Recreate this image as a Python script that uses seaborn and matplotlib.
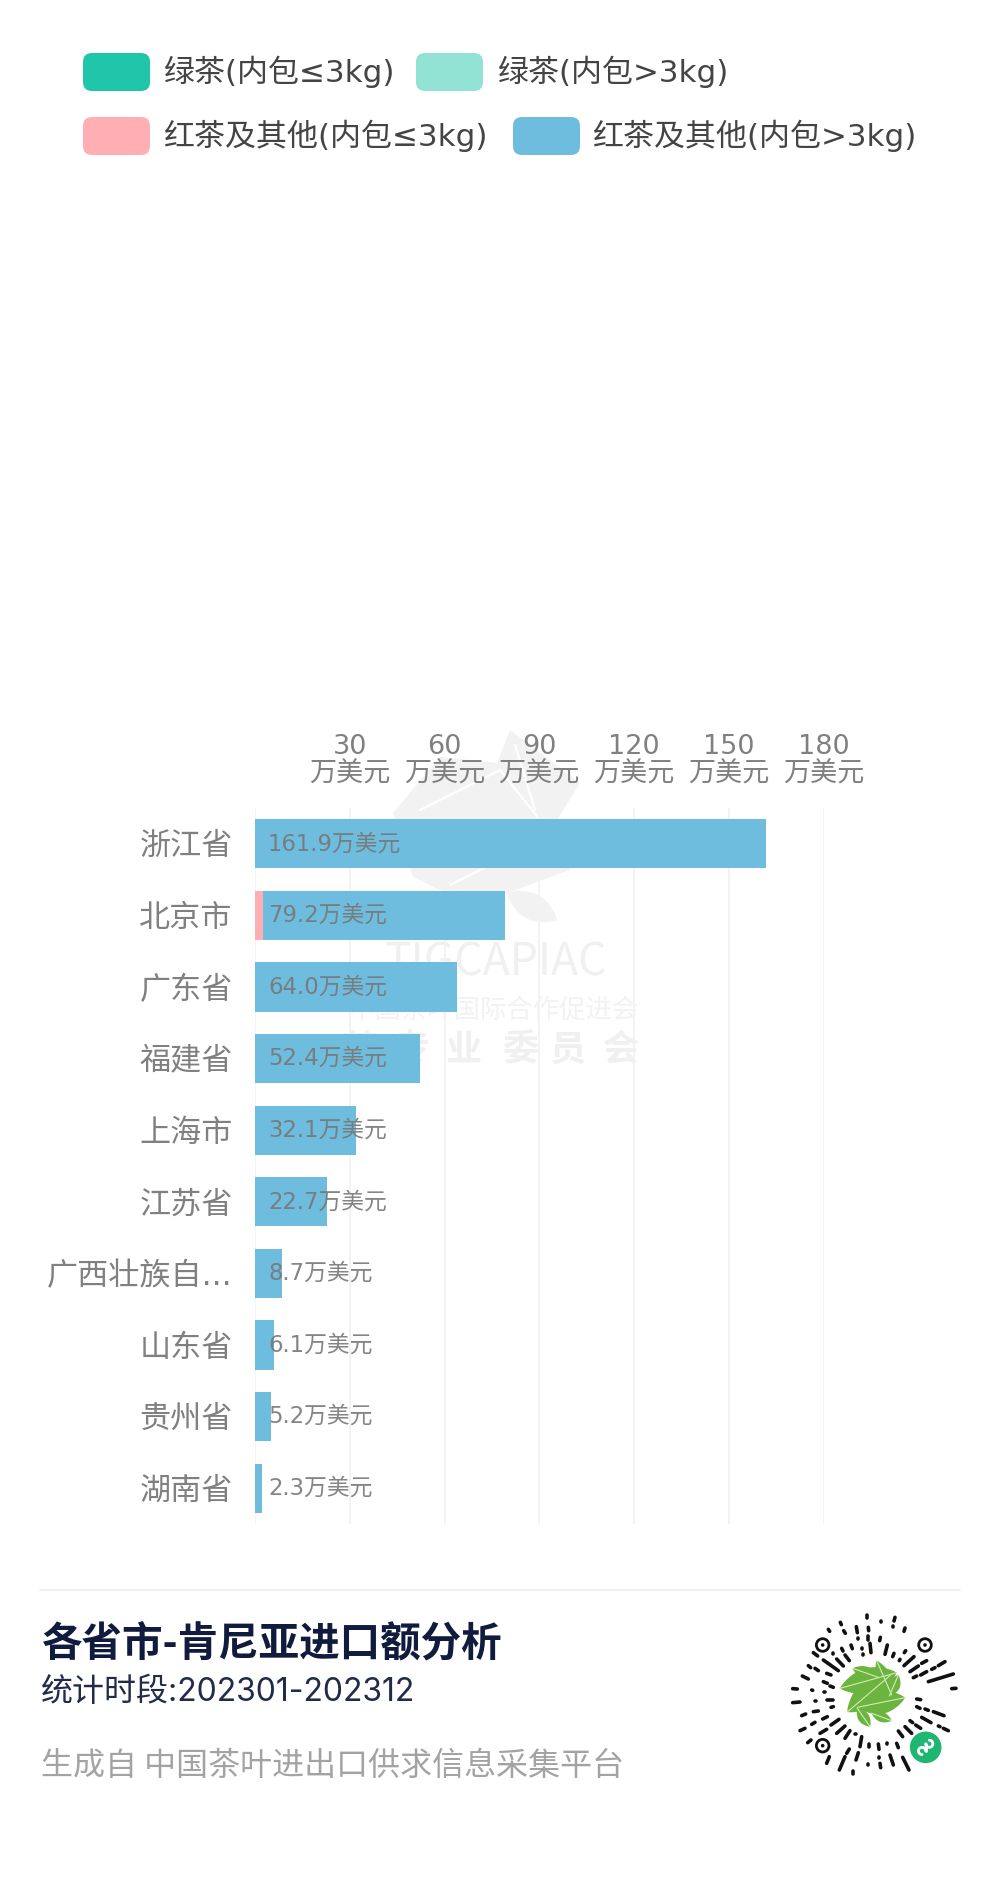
import numpy as np
import pandas as pd
import matplotlib
matplotlib.use("Agg")
import matplotlib.pyplot as plt
import seaborn as sns
from matplotlib.patches import Polygon, FancyBboxPatch, Circle

# values are in 万美元
provinces = ["浙江省", "北京市", "广东省", "福建省", "上海市", "江苏省", "广西壮族自...", "山东省", "贵州省", "湖南省"]
green_small = [0, 0, 0, 0, 0, 0, 0, 0, 0, 0]
green_large = [0, 0, 0, 0, 0, 0, 0, 0, 0, 0]
black_small = [0, 2.4, 0, 0, 0, 0, 0, 0, 0, 0]
black_large = [161.9, 76.8, 64.0, 52.4, 32.1, 22.7, 8.7, 6.1, 5.2, 2.3]
value_labels = ["161.9万美元", "79.2万美元", "64.0万美元", "52.4万美元", "32.1万美元", "22.7万美元", "8.7万美元", "6.1万美元", "5.2万美元", "2.3万美元"]
x_ticks = [0, 30, 60, 90, 120, 150, 180]
x_tick_labels = ["", "30\n万美元", "60\n万美元", "90\n万美元", "120\n万美元", "150\n万美元", "180\n万美元"]
series_names = ["绿茶(内包≤3kg)", "绿茶(内包>3kg)", "红茶及其他(内包≤3kg)", "红茶及其他(内包>3kg)"]
series_colors = ["#20C5AA", "#92E3D3", "#FFAEB4", "#6FBDDE"]

title = "各省市-肯尼亚进口额分析"
subtitle = "统计时段:202301-202312"
source = "生成自 中国茶叶进出口供求信息采集平台"

W, H = 1000, 1897

sns.set_theme(style="white")
cjk = ["Noto Sans CJK SC", "DejaVu Sans"]
plt.rcParams["font.family"] = ["DejaVu Sans", "Noto Sans CJK SC"]

fig = plt.figure(figsize=(W / 100, H / 100), dpi=100, facecolor="white")

# background layer in pixel coordinates, holds legend, watermark and footer
bg = fig.add_axes([0, 0, 1, 1], zorder=0)
bg.set_xlim(0, W)
bg.set_ylim(H, 0)
bg.axis("off")


def leaf(p, q, w, color, vein=None, vw=1.2, z=2):
    p = np.array(p, float)
    q = np.array(q, float)
    t = np.linspace(0, 1, 30)
    d = q - p
    n = np.array([-d[1], d[0]]) / np.hypot(*d)
    side = np.sin(np.pi * t) ** 0.8 * w
    mid = p + np.outer(t, d)
    pts = np.vstack([mid + np.outer(side, n), (mid - np.outer(side, n))[::-1]])
    bg.add_patch(Polygon(pts, closed=True, fc=color, ec="none", zorder=z))
    if vein:
        bg.plot([p[0], q[0]], [p[1], q[1]], color=vein, lw=vw, zorder=z + 0.1)


# watermark
wm = "#F2F2F2"
bg.add_patch(Polygon([(393, 813), (440, 757), (497, 763), (510, 730), (580, 783), (557, 820), (570, 870),
                      (507, 893), (440, 890), (413, 877)], closed=True, fc=wm, ec="none", zorder=1))
leaf((507, 893), (557, 920), 13, wm, z=1)
for a, b in [((420, 810), (500, 770)), ((500, 770), (540, 820)), ((515, 745), (535, 810)), ((450, 885), (560, 830))]:
    bg.plot(*zip(a, b), color="white", lw=1.5, zorder=1.2)
bg.text(496, 963, "TIGCAPIAC", color="#F0F0F0", fontsize=32, ha="center", va="center", zorder=1, family=cjk)
bg.text(494, 1010, "中国茶叶国际合作促进会", color="#F2F2F2", fontsize=19, ha="center", va="center", zorder=1, family=cjk)
for cx, ch in zip([359, 411, 463, 520, 567, 620], "茶专业委员会"):
    bg.text(cx, 1050, ch, color="#F0F0F0", fontsize=26, fontweight="bold", ha="center", va="center", zorder=1, family=cjk)

# legend
legend_pos = [(83, 53, 164), (416, 53, 498), (83, 117, 164), (513, 117, 593)]
for (sx, sy, tx), name, col in zip(legend_pos, series_names, series_colors):
    bg.add_patch(FancyBboxPatch((sx + 9, sy + 9), 49, 20, boxstyle="round,pad=9,rounding_size=9",
                                fc=col, ec="none", zorder=3))
    bg.text(tx, sy + 19, name, fontsize=22.3, color="#444444", va="center", ha="left", zorder=3)

# footer
bg.plot([40, 960], [1590, 1590], color="#EEEEEE", lw=1.2)
bg.text(41, 1645, title, fontsize=29.2, fontweight="bold", color="#101B3D", va="center", ha="left", family=cjk)
bg.text(41, 1692, subtitle, fontsize=23, color="#222C48", va="center", ha="left",
        family=["Inter", "Noto Sans CJK SC"])
bg.text(41, 1766, source, fontsize=23, color="#A3A3A3", va="center", ha="left", family=cjk)

# mini program code, strokes (crop coords, 3x from 770,1600)
qr_strokes = [
    (291, 45, 291, 55), (375, 52, 372, 63), (211, 67, 214, 74), (332, 62, 332, 66), (175, 88, 179, 94),
    (259, 80, 262, 98), (295, 82, 296, 92), (368, 78, 368, 80), (405, 84, 402, 94), (221, 92, 226, 100),
    (295, 107, 295, 120), (331, 112, 329, 122), (265, 115, 265, 116), (358, 117, 358, 118), (395, 110, 395, 110),
    (441, 102, 441, 102), (195, 120, 195, 120), (243, 135, 247, 146), (300, 130, 303, 158), (352, 135, 345, 163),
    (383, 135, 383, 135), (425, 127, 425, 127), (215, 145, 219, 153), (275, 145, 275, 146), (327, 158, 327, 158),
    (372, 160, 368, 170), (407, 152, 403, 158), (496, 157, 496, 157), (130, 158, 143, 168), (188, 160, 188, 162),
    (225, 165, 238, 182), (280, 163, 280, 164), (160, 180, 205, 212), (200, 177, 220, 198), (258, 170, 258, 170),
    (432, 170, 402, 197), (390, 178, 388, 182), (525, 185, 505, 197), (470, 182, 455, 190), (115, 197, 122, 203),
    (445, 198, 420, 215), (495, 203, 485, 208), (135, 205, 145, 212), (470, 215, 452, 225), (170, 220, 183, 225),
    (97, 228, 115, 237), (440, 228, 430, 233), (550, 222, 475, 245), (132, 240, 132, 240), (160, 245, 172, 250),
    (190, 232, 190, 232), (180, 258, 190, 262), (437, 255, 437, 255), (68, 266, 82, 267), (105, 270, 105, 270),
    (125, 270, 128, 271), (162, 275, 165, 275), (185, 278, 185, 278), (440, 275, 440, 275), (470, 273, 470, 273),
    (490, 272, 490, 272), (510, 270, 510, 270), (530, 268, 530, 268), (545, 266, 558, 265), (68, 308, 90, 306),
    (118, 305, 118, 305), (135, 303, 138, 303), (155, 301, 155, 301), (172, 299, 188, 299), (440, 297, 452, 299),
    (535, 307, 535, 307), (130, 335, 145, 333), (95, 347, 107, 342), (158, 357, 172, 350), (183, 322, 190, 320),
    (440, 320, 450, 325), (465, 327, 475, 331), (490, 335, 522, 347), (430, 342, 430, 342), (455, 352, 483, 368),
    (437, 375, 452, 385), (420, 362, 428, 368), (160, 335, 160, 335), (90, 392, 105, 385), (125, 373, 135, 367),
    (150, 400, 170, 388), (183, 375, 207, 358), (200, 400, 225, 378), (225, 415, 240, 392), (505, 378, 510, 380),
    (520, 385, 535, 392), (405, 380, 425, 400), (385, 393, 398, 410), (255, 403, 258, 403), (113, 428, 123, 420),
    (205, 440, 205, 440), (275, 410, 270, 440), (298, 415, 298, 415), (320, 413, 320, 413), (345, 410, 345, 410),
    (365, 405, 365, 405), (298, 432, 298, 440), (325, 432, 327, 448), (352, 430, 352, 432), (380, 430, 385, 443),
    (238, 447, 230, 460), (298, 455, 298, 456), (265, 458, 258, 480), (327, 472, 327, 475), (392, 458, 392, 460),
    (360, 465, 370, 495), (178, 470, 170, 490), (225, 470, 208, 510), (398, 472, 417, 510), (293, 492, 293, 495),
    (330, 490, 332, 503), (250, 513, 250, 523), (293, 510, 293, 510),
]


def qx(v):
    return 770 + v / 3


def qy(v):
    return 1600 + v / 3


for x0, y0, x1, y1 in qr_strokes:
    bg.plot([qx(x0), qx(x1)], [qy(y0), qy(y1)], color="#111111", lw=2.6, solid_capstyle="round", zorder=3)
for cx, cy in [(158, 135), (465, 135), (158, 437)]:
    bg.add_patch(Circle((qx(cx), qy(cy)), 6.3, fc="none", ec="#111111", lw=2, zorder=3))
    bg.add_patch(Circle((qx(cx), qy(cy)), 1.8, fc="#111111", ec="none", zorder=3))

leaf_green = "#6BB440"
leaf_vein = "#D4EBB4"
for p, q, w in [((320, 182), (365, 285), 11), ((385, 225), (358, 288), 10), ((248, 205), (325, 232), 10),
                ((210, 265), (380, 218), 20), ((232, 336), (362, 225), 20), ((262, 322), (405, 293), 18),
                ((300, 380), (262, 325), 9), ((365, 362), (305, 340), 8)]:
    leaf((qx(p[0]), qy(p[1])), (qx(q[0]), qy(q[1])), w / 1.6, leaf_green, leaf_vein, 0.8, z=3)
bx, by = qx(467), qy(442)
bg.add_patch(Circle((bx, by), 15.8, fc="#1FB672", ec="none", zorder=3))
ang = np.linspace(np.pi, 2.5 * np.pi, 30)
r = 3.6
bg.plot(bx + r + r * np.cos(ang), by - r - r * np.sin(ang), color="white", lw=2, zorder=3.2)
bg.plot(bx - r - r * np.cos(ang), by + r + r * np.sin(ang), color="white", lw=2, zorder=3.2)
bg.plot([bx, bx], [by - r, by + r], color="white", lw=2, zorder=3.2)

# chart, drawn as overlaid running totals so the segments stack
ax = fig.add_axes([255 / W, 1 - 1524 / H, (823.5 - 255) / W, (1524 - 808) / H], zorder=1)
ax.patch.set_alpha(0)
segments = [green_small, green_large, black_small, black_large]
running = np.cumsum(np.array(segments, float), axis=0)
df = pd.DataFrame({"province": provinces})
for name, col, totals in reversed(list(zip(series_names, series_colors, running))):
    df["value"] = totals
    sns.barplot(data=df, x="value", y="province", color=col, saturation=1, width=0.685,
                linewidth=0, ax=ax, orient="h", zorder=2)

ax.set_xlim(0, 180)
ax.set_ylim(9.5, -0.5)
ax.set_xlabel("")
ax.set_ylabel("")
ax.xaxis.tick_top()
ax.set_xticks(x_ticks)
ax.set_xticklabels(x_tick_labels, fontsize=19.5, color="#808080", linespacing=1.05)
ax.tick_params(axis="x", length=0, pad=15)
ax.tick_params(axis="y", length=0, pad=16, labelsize=22.4, labelcolor="#808080")
ax.grid(True, axis="x", color="#F0F4F5", lw=1.4, zorder=0)
ax.set_axisbelow(True)
sns.despine(ax=ax, left=True, bottom=True, top=True, right=True)

for i, lab in enumerate(value_labels):
    ax.annotate(lab, xy=(0, i), xytext=(9.4, 0), textcoords="offset points", fontsize=16.4,
                color="#777777", alpha=0.9, ha="left", va="center", zorder=5)

fig.savefig("out.png", dpi=100, facecolor="white")
